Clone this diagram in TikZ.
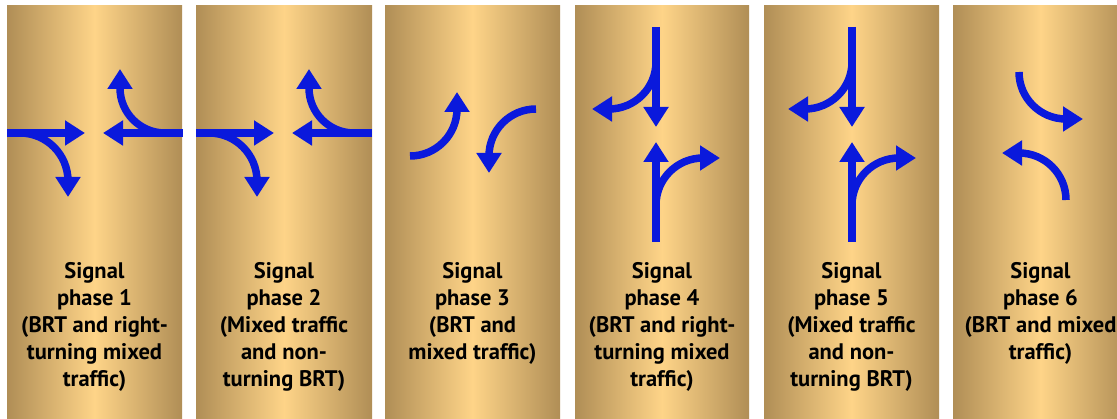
\documentclass[tikz,border=0pt]{standalone}
\usepackage{fontspec}
\setmainfont{PT Sans}
\usetikzlibrary{arrows.meta}
\definecolor{panedge}{RGB}{176,142,86}
\definecolor{pancenter}{RGB}{254,212,136}
\definecolor{arrowblue}{RGB}{10,25,220}
\tikzset{
  panel/.style={left color=panedge, right color=panedge, middle color=pancenter},
  flow/.style={draw=arrowblue, line width=7.5pt, -{Triangle[width=24pt,length=20pt]}},
  caption/.style={align=center, anchor=north, inner sep=0pt, font=\fontsize{22.5}{27}\selectfont\bfseries}
}
\begin{document}
\begin{tikzpicture}[x=1pt,y=-1pt]
\useasboundingbox (0,0) rectangle (1117,419);
\fill[white] (0,0) rectangle (1117,419);
\clip (0,0) rectangle (1117,419);
% panels
\foreach \l/\r in {7/182,196/372,385/560,575/749,764/939,953/1128}{
  \shade[panel] (\l,6) rectangle (\r,420);
}
% panels 1 and 2
\foreach \d in {0,189}{
  \begin{scope}[xshift=\d pt]
    \draw[flow] (7,133) -- (85,133);
    \draw[flow] (20,133) arc[start angle=90,end angle=0,radius=48pt] -- (68,197);
    \draw[flow] (182.5,133) -- (103,133);
    \draw[flow] (165,133) arc[start angle=270,end angle=180,radius=45pt] -- (120,69);
  \end{scope}
}
% panel 3
\draw[flow] (410,156) arc[start angle=270,end angle=360,radius=47pt] -- (457,92);
\draw[flow] (536,109) arc[start angle=90,end angle=180,radius=47pt] -- (489,173);
% panels 4 and 5
\foreach \d in {0,196}{
  \begin{scope}[xshift=\d pt]
    \draw[flow] (656,27) -- (656,127);
    \draw[flow] (656,62) arc[start angle=0,end angle=-90,radius=47pt] -- (592,109);
    \draw[flow] (656,242) -- (656,142);
    \draw[flow] (656,205) arc[start angle=180,end angle=90,radius=47pt] -- (720,158);
  \end{scope}
}
% panel 6
\draw[flow] (1019,72) arc[start angle=180,end angle=270,radius=47pt] -- (1083,119);
\draw[flow] (1066,200) arc[start angle=0,end angle=90,radius=47pt] -- (1002,153);
% captions
\node[caption] (c1) at (94.5,262) {Signal\\phase 1\\(BRT and right-\\turning mixed\\traffic)};
\node[caption] (c2) at (284,262) {Signal\\phase 2\\(Mixed traffic\\and non-\\turning BRT)};
\node[caption] (c3) at (472.5,262) {Signal\\phase 3\\(BRT and\\mixed traffic)};
\node[caption] (c4) at (662,262) {Signal\\phase 4\\(BRT and right-\\turning mixed\\traffic)};
\node[caption] (c5) at (851.5,262) {Signal\\phase 5\\(Mixed traffic\\and non-\\turning BRT)};
\node[caption] (c6) at (1040.5,262) {Signal\\phase 6\\(BRT and mixed\\traffic)};
\end{tikzpicture}
\end{document}
